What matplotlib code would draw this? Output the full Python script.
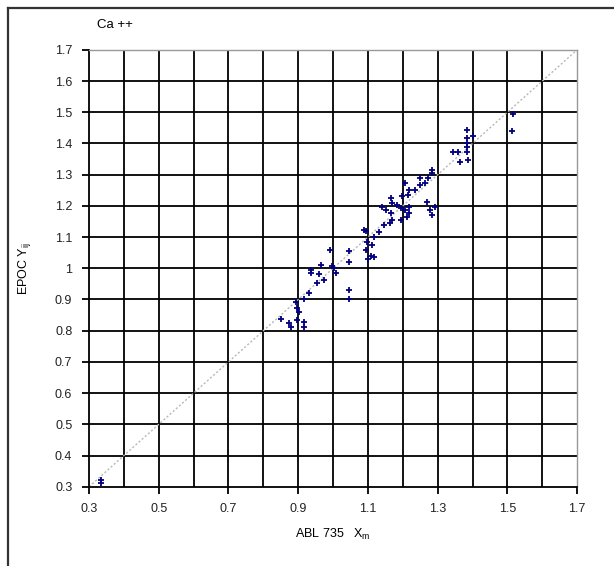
import numpy as np
import matplotlib
matplotlib.use("Agg")
import matplotlib.pyplot as plt
from matplotlib.lines import Line2D

plt.rcParams['font.family'] = ['Liberation Sans', 'DejaVu Sans']
plt.rcParams['mathtext.fontset'] = 'custom'
plt.rcParams['mathtext.rm'] = 'Liberation Sans'

# ABL 735 (x) vs EPOC (y)
abl = [0.335, 0.335,
       0.85, 0.873, 0.879, 0.897, 0.902, 0.897, 0.917, 0.917, 0.894, 0.917, 0.931,
       0.954, 0.96, 0.974, 0.937, 0.937, 0.966, 0.997, 1.003, 1.009, 0.99,
       1.045, 1.045, 1.045, 1.045, 1.095, 1.095, 1.10, 1.11, 1.118,
       1.098, 1.113, 1.09, 1.118, 1.133, 1.147, 1.162, 1.17, 1.196, 1.211,
       1.153, 1.167, 1.141, 1.182, 1.196, 1.205, 1.219, 1.219, 1.167, 1.17,
       1.199, 1.214, 1.234, 1.248, 1.205, 1.219, 1.248, 1.268, 1.277, 1.283,
       1.291, 1.271, 1.283, 1.263, 1.283,
       1.343, 1.358, 1.363, 1.384, 1.384, 1.384, 1.384, 1.384, 1.386, 1.401,
       1.513, 1.515]
epoc = [0.312, 0.322,
        0.838, 0.826, 0.813, 0.835, 0.861, 0.874, 0.829, 0.813, 0.893, 0.90, 0.92,
        0.954, 0.983, 0.963, 0.995, 0.985, 1.01, 1.008, 1.002, 0.986, 1.06,
        1.055, 1.02, 0.931, 0.90, 1.06, 1.12, 1.03, 1.04, 1.037,
        1.085, 1.076, 1.124, 1.101, 1.117, 1.14, 1.146, 1.156, 1.156, 1.165,
        1.188, 1.178, 1.197, 1.204, 1.194, 1.188, 1.197, 1.178, 1.226, 1.21,
        1.23, 1.236, 1.252, 1.268, 1.274, 1.252, 1.29, 1.213, 1.188, 1.172,
        1.197, 1.29, 1.306, 1.274, 1.316,
        1.374, 1.371, 1.342, 1.444, 1.419, 1.403, 1.387, 1.371, 1.348, 1.425,
        1.439, 1.495]

y_ticks = np.round(np.arange(0.3, 1.71, 0.1), 1)
x_ticks = np.round(np.arange(0.3, 1.71, 0.2), 1)
y_labels = ['0.3', '0.4', '0.5', '0.6', '0.7', '0.8', '0.9', '1',
            '1.1', '1.2', '1.3', '1.4', '1.5', '1.6', '1.7']
x_labels = ['0.3', '0.5', '0.7', '0.9', '1.1', '1.3', '1.5', '1.7']

fig = plt.figure(figsize=(6.14, 5.66), dpi=100)
ax = fig.add_axes([0.145, 0.14, 0.795, 0.772])

ax.set_xlim(0.3, 1.7)
ax.set_ylim(0.3, 1.7)

# grid every 0.1 on both axes
for v in np.arange(0.4, 1.65, 0.1):
    ax.axvline(v, color='black', lw=1.3, zorder=1)
    ax.axhline(v, color='black', lw=1.3, zorder=1)

# line of identity
ax.plot([0.3, 1.7], [0.3, 1.7], color='#b8b8b8', lw=1.0, ls=(0, (1.5, 1.5)), zorder=2)

ax.plot(abl, epoc, ls='none', marker='+', ms=4, mew=1.3, color='#000080', zorder=3)

ax.set_yticks(y_ticks)
ax.set_yticklabels(y_labels)
ax.set_xticks(x_ticks)
ax.set_xticklabels(x_labels)
ax.tick_params(direction='out', length=5, width=1.3, labelsize=9, colors='black',
               labelcolor='#222222', pad=7)
for s in ax.spines.values():
    s.set_linewidth(1.3)
    s.set_color('black')
ax.spines['top'].set_color('#999999')
ax.spines['top'].set_linewidth(1.0)
ax.spines['right'].set_color('#999999')
ax.spines['right'].set_linewidth(1.0)

ax.set_xlabel(r'ABL 735   $\mathregular{X_m}$', fontsize=9, labelpad=8)
ax.set_ylabel(r'EPOC $\mathregular{Y_{ij}}$', fontsize=9, labelpad=16)

fig.text(0.158, 0.956, 'Ca ++', fontsize=9.5, ha='left', va='center')

# outer chart frame (top and left edges visible)
fig.add_artist(Line2D([8 / 614, 1.0], [1 - 8 / 566, 1 - 8 / 566],
                      transform=fig.transFigure, color='#333333', lw=1.6))
fig.add_artist(Line2D([8 / 614, 8 / 614], [0.0, 1 - 8 / 566],
                      transform=fig.transFigure, color='#333333', lw=1.6))

fig.savefig('out.png', dpi=100)
